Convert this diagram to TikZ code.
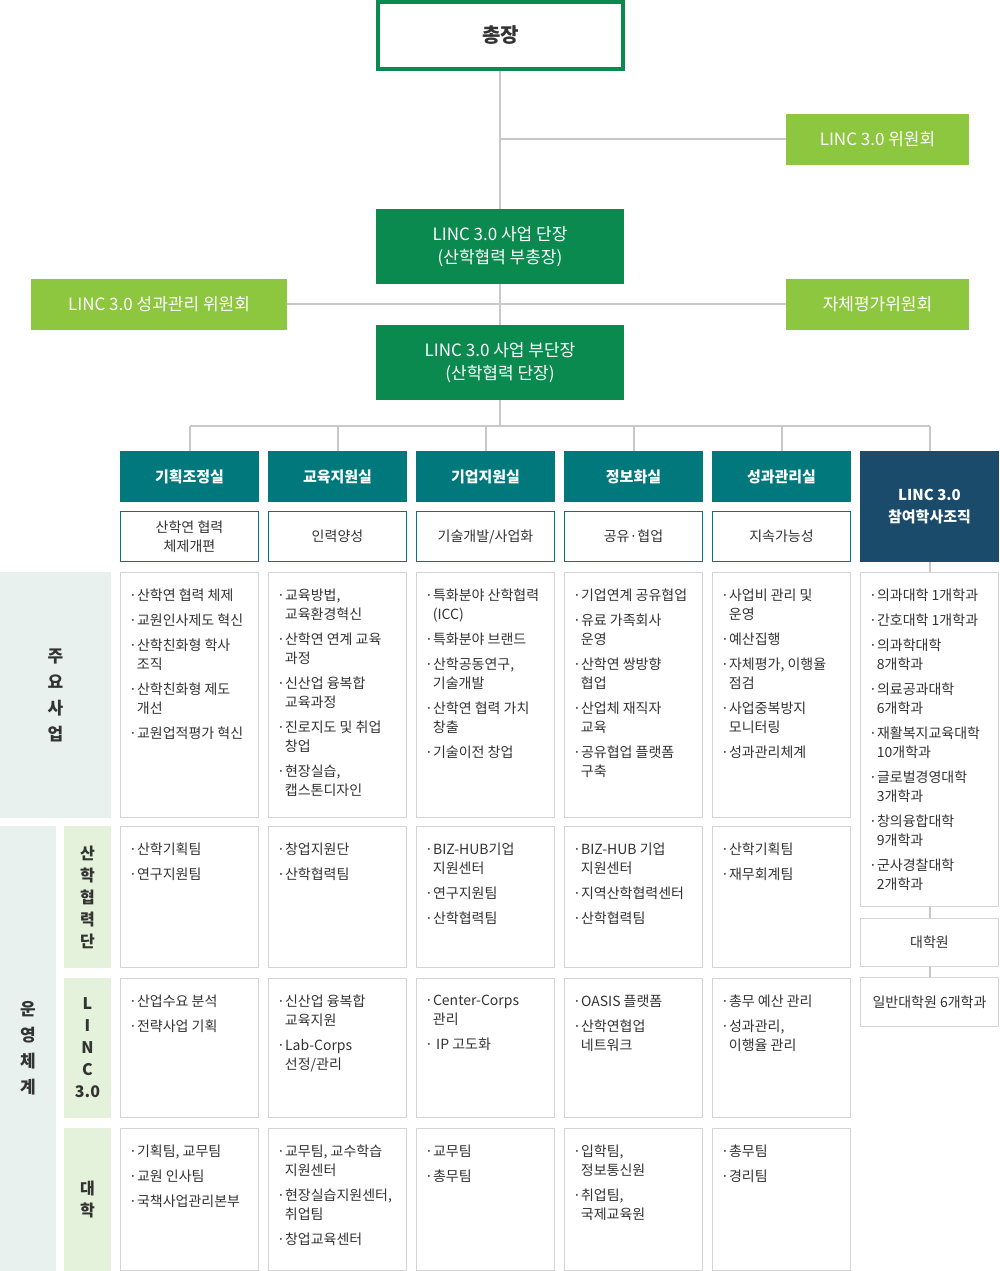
\documentclass[tikz,border=0pt]{standalone}
\usepackage{fontspec}
\setmainfont{Noto Sans CJK KR}
\definecolor{lgreen}{HTML}{8DC63F}
\definecolor{dgreen}{HTML}{0A8A4E}
\definecolor{teal}{HTML}{00787C}
\definecolor{navy}{HTML}{1A4B6A}
\definecolor{lbg}{HTML}{E8F1EE}
\definecolor{sbg}{HTML}{E4F2DC}
\definecolor{ln}{HTML}{C8C8C8}
\definecolor{bd}{HTML}{D4D4D4}
\definecolor{tx}{HTML}{333333}
\tikzset{
 conn/.style={draw=ln,line width=1.5pt},
 gbox/.style={fill=lgreen,text=white,font=\fontsize{17}{21}\selectfont},
 dbox/.style={fill=dgreen,text=white,align=center,font=\fontsize{17}{23}\selectfont},
 hbox/.style={fill=teal,text=white,font=\bfseries\fontsize{15}{19}\selectfont},
 sub/.style={draw=teal,line width=1pt,fill=white,text=tx,align=center,font=\fontsize{14}{19}\selectfont},
 cbox/.style={draw=bd,line width=1pt,fill=white},
 ctext/.style={anchor=north west,inner sep=0pt,align=left,text=tx,font=\fontsize{14}{19}\selectfont},
}
\newcommand{\rect}[6]{\path[#1] (#2,#3) rectangle (#4,#5) node[midway] {#6};}
\newcommand{\ct}[3]{\node[ctext] at (#1+9,#2+17) {#3};}
\newcommand{\ci}{\hspace*{0.55em}}
\begin{document}
\begin{tikzpicture}[x=1pt,y=-1pt]
\useasboundingbox (0,0) rectangle (1000,1271);
% connectors
\coordinate (t1) at (500,70);
\coordinate (t2) at (500,426);
\draw[conn] (t1) -- (t2);
\draw[conn] (500,139) -- (786,139);
\draw[conn] (287,304) -- (786,304);
\draw[conn] (190,426) -- (930,426);
\foreach \x in {190,338,486,634,782,930} \draw[conn] (\x,426) -- (\x,451);
\draw[conn] (930,562) -- (930,572);
\draw[conn] (930,907) -- (930,977);
% top
\path[draw=dgreen,line width=4pt,fill=white] (378,2) rectangle (623,69) node[midway,text=tx,font=\bfseries\fontsize{20}{24}\selectfont] (pres) {총장};
\rect{gbox}{786}{114}{969}{165}{LINC 3.0 위원회}
\rect{dbox}{376}{209}{624}{284}{LINC 3.0 사업 단장\\(산학협력 부총장)}
\rect{gbox}{31}{279}{287}{330}{LINC 3.0 성과관리 위원회}
\rect{gbox}{786}{279}{969}{330}{자체평가위원회}
\rect{dbox}{376}{325}{624}{400}{LINC 3.0 사업 부단장\\(산학협력 단장)}
% headers
\rect{hbox}{120}{451}{259}{502}{기획조정실}
\rect{hbox}{268}{451}{407}{502}{교육지원실}
\rect{hbox}{416}{451}{555}{502}{기업지원실}
\rect{hbox}{564}{451}{703}{502}{정보화실}
\rect{hbox}{712}{451}{851}{502}{성과관리실}
\path[fill=navy] (860,451) rectangle (999,562) node[midway,text=white,align=center,font=\bfseries\fontsize{15}{22}\selectfont] {LINC 3.0\\참여학사조직};
\rect{sub}{120.5}{511.5}{258.5}{561.5}{산학연 협력\\체제개편}
\rect{sub}{268.5}{511.5}{406.5}{561.5}{인력양성}
\rect{sub}{416.5}{511.5}{554.5}{561.5}{기술개발/사업화}
\rect{sub}{564.5}{511.5}{702.5}{561.5}{공유·협업}
\rect{sub}{712.5}{511.5}{850.5}{561.5}{지속가능성}
% left labels
\path[fill=lbg] (0,572) rectangle (111,818) node[midway,align=center,text=tx,font=\bfseries\fontsize{17}{26}\selectfont] {주\\요\\사\\업};
\path[fill=lbg] (0,826) rectangle (56,1271) node[midway,align=center,text=tx,font=\bfseries\fontsize{17}{26}\selectfont] {운\\영\\체\\계};
\path[fill=sbg] (64,826) rectangle (111,968) node[midway,align=center,text=tx,font=\bfseries\fontsize{16}{22}\selectfont] {산\\학\\협\\력\\단};
\path[fill=sbg] (64,978) rectangle (111,1118) node[midway,align=center,text=tx,font=\bfseries\fontsize{16}{22}\selectfont] {L\\I\\N\\C\\3.0};
\path[fill=sbg] (64,1128) rectangle (111,1271) node[midway,align=center,text=tx,font=\bfseries\fontsize{16}{22}\selectfont] {대\\학};
% content boxes
\foreach \x in {120,268,416,564,712}{
 \path[cbox] (\x+0.5,572.5) rectangle (\x+138.5,817.5);
 \path[cbox] (\x+0.5,826.5) rectangle (\x+138.5,967.5);
 \path[cbox] (\x+0.5,978.5) rectangle (\x+138.5,1117.5);
 \path[cbox] (\x+0.5,1128.5) rectangle (\x+138.5,1270.5);
}
\path[cbox] (860.5,572.5) rectangle (998.5,906.5);
\path[cbox] (860.5,918.5) rectangle (998.5,966.5) node[midway,text=tx,font=\fontsize{14}{19}\selectfont] {대학원};
\path[cbox] (860.5,977.5) rectangle (998.5,1026.5) node[midway,text=tx,font=\fontsize{14}{19}\selectfont] {일반대학원 6개학과};
% texts row 1
\ct{120}{572}{·산학연 협력 체제\\[6pt]·교원인사제도 혁신\\[6pt]·산학친화형 학사\\\ci 조직\\[6pt]·산학친화형 제도\\\ci 개선\\[6pt]·교원업적평가 혁신}
\ct{268}{572}{·교육방법,\\\ci 교육환경혁신\\[6pt]·산학연 연계 교육\\\ci 과정\\[6pt]·신산업 융복합\\\ci 교육과정\\[6pt]·진로지도 및 취업\\\ci 창업\\[6pt]·현장실습,\\\ci 캡스톤디자인}
\ct{416}{572}{·특화분야 산학협력\\\ci (ICC)\\[6pt]·특화분야 브랜드\\[6pt]·산학공동연구,\\\ci 기술개발\\[6pt]·산학연 협력 가치\\\ci 창출\\[6pt]·기술이전 창업}
\ct{564}{572}{·기업연계 공유협업\\[6pt]·유료 가족회사\\\ci 운영\\[6pt]·산학연 쌍방향\\\ci 협업\\[6pt]·산업체 재직자\\\ci 교육\\[6pt]·공유협업 플랫폼\\\ci 구축}
\ct{712}{572}{·사업비 관리 및\\\ci 운영\\[6pt]·예산집행\\[6pt]·자체평가, 이행율\\\ci 점검\\[6pt]·사업중복방지\\\ci 모니터링\\[6pt]·성과관리체계}
\ct{860}{572}{·의과대학 1개학과\\[6pt]·간호대학 1개학과\\[6pt]·의과학대학\\\ci 8개학과\\[6pt]·의료공과대학\\\ci 6개학과\\[6pt]·재활복지교육대학\\\ci 10개학과\\[6pt]·글로벌경영대학\\\ci 3개학과\\[6pt]·창의융합대학\\\ci 9개학과\\[6pt]·군사경찰대학\\\ci 2개학과}
% row 2
\ct{120}{826}{·산학기획팀\\[6pt]·연구지원팀}
\ct{268}{826}{·창업지원단\\[6pt]·산학협력팀}
\ct{416}{826}{·BIZ-HUB기업\\\ci 지원센터\\[6pt]·연구지원팀\\[6pt]·산학협력팀}
\ct{564}{826}{·BIZ-HUB 기업\\\ci 지원센터\\[6pt]·지역산학협력센터\\[6pt]·산학협력팀}
\ct{712}{826}{·산학기획팀\\[6pt]·재무회계팀}
% row 3
\ct{120}{978}{·산업수요 분석\\[6pt]·전략사업 기획}
\ct{268}{978}{·신산업 융복합\\\ci 교육지원\\[6pt]·Lab-Corps\\\ci 선정/관리}
\ct{416}{978}{·Center-Corps\\\ci 관리\\[6pt]· IP 고도화}
\ct{564}{978}{·OASIS 플랫폼\\[6pt]·산학연협업\\\ci 네트워크}
\ct{712}{978}{·총무 예산 관리\\[6pt]·성과관리,\\\ci 이행율 관리}
% row 4
\ct{120}{1128}{·기획팀, 교무팀\\[6pt]·교원 인사팀\\[6pt]·국책사업관리본부}
\ct{268}{1128}{·교무팀, 교수학습\\\ci 지원센터\\[6pt]·현장실습지원센터,\\\ci 취업팀\\[6pt]·창업교육센터}
\ct{416}{1128}{·교무팀\\[6pt]·총무팀}
\ct{564}{1128}{·입학팀,\\\ci 정보통신원\\[6pt]·취업팀,\\\ci 국제교육원}
\ct{712}{1128}{·총무팀\\[6pt]·경리팀}
\end{tikzpicture}
\end{document}
